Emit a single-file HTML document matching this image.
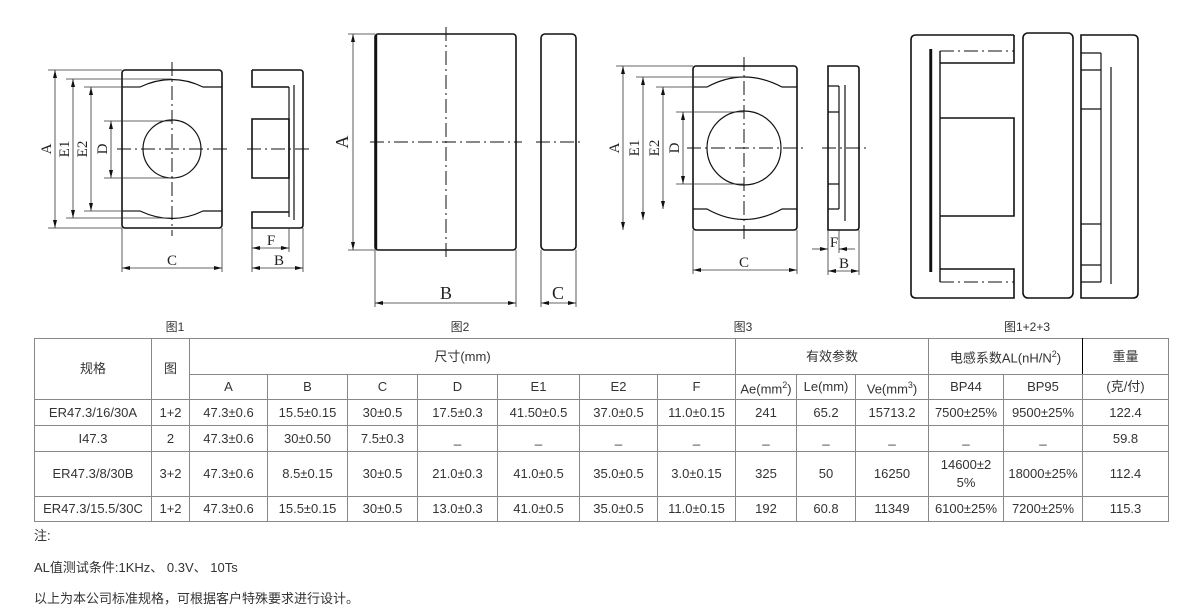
<!DOCTYPE html>
<html><head><meta charset="utf-8">
<style>
body{margin:0;width:1184px;height:615px;background:#fff;position:relative;overflow:hidden;font-family:"Liberation Sans","Noto Sans CJK SC",sans-serif;color:#333;}
svg{position:absolute;left:0;top:0}
.cap{position:absolute;top:318px;font-size:12px;color:#333;transform:translateX(-50%)}
table{position:absolute;left:34px;top:338px;border-collapse:collapse;table-layout:fixed;font-size:13px;color:#333}
td{border:1px solid #888;text-align:center;padding:0;line-height:18px}
.n{position:absolute;left:34px;font-size:13px;color:#333}
</style></head><body>
<svg width="1184" height="320" viewBox="0 0 1184 320" fill="none" stroke="#111" font-family="Liberation Serif, serif">
<defs>
<marker id="ar" markerWidth="8" markerHeight="6" refX="8" refY="3" orient="auto-start-reverse" markerUnits="userSpaceOnUse"><path d="M0,1 L8,3 L0,5z" fill="#111" stroke="none"/></marker>
</defs>
<g stroke-width="1.6">
<!-- Fig1 front -->
<rect x="122" y="70" width="100" height="158" rx="3"/>
<path d="M122,87 H140 Q172,72 203,87 H222" stroke-width="1.2"/>
<path d="M122,211 H140 Q172,226 203,211 H222" stroke-width="1.2"/>
<circle cx="172" cy="149" r="29" stroke-width="1.2"/>
<!-- Fig1 side -->
<path d="M252,70 H300 Q303,70 303,73 V225 Q303,228 300,228 H252 V212 H289 M252,70 V87 H289 M252,119 H289 V178 H252 Z"/>
<path d="M289,87 V217 M294,85 V220" stroke-width="1.2"/>
<!-- Fig2 -->
<rect x="375" y="34" width="141" height="216" rx="3"/>
<line x1="376" y1="35" x2="376" y2="249" stroke-width="2.4"/>
<rect x="541" y="34" width="35" height="216" rx="4"/>
<!-- Fig3 front -->
<rect x="693" y="66" width="104" height="164" rx="3"/>
<path d="M693,87 H707 Q744,67 782,87 H797" stroke-width="1.2"/>
<path d="M693,209 H707 Q744,230 782,209 H797" stroke-width="1.2"/>
<ellipse cx="744" cy="148" rx="37" ry="37" stroke-width="1.2"/>
<!-- Fig3 side -->
<path d="M828,66 H856 Q859,66 859,69 V227 Q859,230 856,230 H828 Z"/>
<path d="M828,86 H839 M828,112 H839 V184 H828 M828,209 H839 M839,86 V209 M845,85 V221" stroke-width="1.2"/>
<!-- Fig 1+2+3 -->
<path d="M1014,35 H916 Q911,35 911,40 V293 Q911,298 916,298 H1014 V269 H940 M1014,35 V63 H940 M940,118 H1014 V216 H940"/>
<path d="M940,51 V282 M930,49 V272" stroke-width="1.4"/>
<line x1="931" y1="49" x2="931" y2="272" stroke-width="2.4"/>
<rect x="1023" y="33" width="50" height="265" rx="5"/>
<path d="M1081,35 H1133 Q1138,35 1138,40 V293 Q1138,298 1133,298 H1081 Z"/>
<path d="M1081,53 H1101 M1081,70 H1101 M1081,109 H1101 V224 H1081 M1081,265 H1101 M1081,282 H1101 M1101,53 V282 M1111,67 V284" stroke-width="1.2"/>
</g>
<!-- centerlines -->
<g stroke-width="1" stroke-dasharray="14,4,2,4">
<line x1="172" y1="62" x2="172" y2="236"/><line x1="117" y1="149" x2="227" y2="149"/><line x1="247" y1="149" x2="310" y2="149"/>
<line x1="446" y1="27" x2="446" y2="257"/><line x1="370" y1="142" x2="522" y2="142"/><line x1="536" y1="142" x2="581" y2="142"/>
<line x1="744" y1="57" x2="744" y2="240"/><line x1="687" y1="148" x2="803" y2="148"/><line x1="822" y1="148" x2="866" y2="148"/>
<line x1="940" y1="51" x2="1014" y2="51"/><line x1="940" y1="282" x2="1014" y2="282"/>
</g>
<!-- dims -->
<g stroke-width="0.8" stroke="#333">
<path d="M48,70 H122 M48,228 H122 M66,79 H172 M66,218 H172 M84,87 H140 M84,211 H140 M104,121 H172 M104,178 H172"/>
<path d="M122,228 V272 M222,228 V272 M252,228 V272 M303,228 V272 M289,228 V252"/>
<path d="M348,34 H375 M348,250 H375 M375,250 V307 M516,250 V307 M541,250 V307 M576,250 V307"/>
<path d="M616,66 H693 M636,77 H744 M656,87 H707 M676,112 H744 M676,184 H744 M693,230 V274 M797,230 V274 M828,230 V275 M859,230 V275 M839,230 V253"/>
<g marker-start="url(#ar)" marker-end="url(#ar)">
<line x1="55" y1="70" x2="55" y2="228"/><line x1="73" y1="79" x2="73" y2="218"/><line x1="91" y1="87" x2="91" y2="211"/><line x1="111" y1="121" x2="111" y2="178"/>
<line x1="122" y1="268" x2="222" y2="268"/><line x1="252" y1="248" x2="289" y2="248"/><line x1="252" y1="268" x2="303" y2="268"/>
<line x1="353" y1="34" x2="353" y2="250"/><line x1="375" y1="303" x2="516" y2="303"/><line x1="541" y1="303" x2="576" y2="303"/>
<line x1="623" y1="66" x2="623" y2="230"/><line x1="643" y1="77" x2="643" y2="220"/><line x1="663" y1="87" x2="663" y2="209"/><line x1="683" y1="112" x2="683" y2="184"/>
<line x1="693" y1="270" x2="797" y2="270"/><line x1="828" y1="271" x2="859" y2="271"/>
</g>
<line x1="812" y1="249" x2="828" y2="249" marker-end="url(#ar)"/><line x1="855" y1="249" x2="839" y2="249" marker-end="url(#ar)"/>
</g>
<g fill="#222" stroke="none" font-size="15" text-anchor="middle">
<text transform="translate(51,149) rotate(-90)">A</text>
<text transform="translate(69,149) rotate(-90)">E1</text>
<text transform="translate(87,149) rotate(-90)">E2</text>
<text transform="translate(107,149) rotate(-90)">D</text>
<text x="172" y="265">C</text><text x="271" y="245">F</text><text x="279" y="265">B</text>
<text transform="translate(348,142) rotate(-90)" font-size="18">A</text>
<text x="446" y="299" font-size="18">B</text><text x="558" y="299" font-size="18">C</text>
<text transform="translate(619,148) rotate(-90)">A</text>
<text transform="translate(639,148) rotate(-90)">E1</text>
<text transform="translate(659,148) rotate(-90)">E2</text>
<text transform="translate(679,148) rotate(-90)">D</text>
<text x="744" y="267">C</text><text x="834" y="247">F</text><text x="844" y="268">B</text>
</g>
</svg>
<div class="cap" style="left:175px">图1</div>
<div class="cap" style="left:460px">图2</div>
<div class="cap" style="left:743px">图3</div>
<div class="cap" style="left:1027px">图1+2+3</div>
<table>
<colgroup><col style="width:117px"><col style="width:38px"><col style="width:78px"><col style="width:80px"><col style="width:70px"><col style="width:80px"><col style="width:82px"><col style="width:78px"><col style="width:78px"><col style="width:61px"><col style="width:59px"><col style="width:73px"><col style="width:75px"><col style="width:79px"><col style="width:86px"></colgroup>
<tr style="height:36px"><td rowspan="2">规格</td><td rowspan="2">图</td><td colspan="7">尺寸(mm)</td><td colspan="3">有效参数</td><td colspan="2" style="border-left:1px solid #000;border-right:1px solid #000">电感系数AL(nH/N<sup style="font-size:9px">2</sup>)</td><td>重量</td></tr>
<tr style="height:25px"><td>A</td><td>B</td><td>C</td><td>D</td><td>E1</td><td>E2</td><td>F</td><td>Ae(mm<sup style="font-size:9px">2</sup>)</td><td>Le(mm)</td><td>Ve(mm<sup style="font-size:9px">3</sup>)</td><td>BP44</td><td>BP95</td><td>(克/付)</td></tr>
<tr style="height:26px"><td>ER47.3/16/30A</td><td>1+2</td><td>47.3±0.6</td><td>15.5±0.15</td><td>30±0.5</td><td>17.5±0.3</td><td>41.50±0.5</td><td>37.0±0.5</td><td>11.0±0.15</td><td>241</td><td>65.2</td><td>15713.2</td><td>7500±25%</td><td>9500±25%</td><td>122.4</td></tr>
<tr style="height:26px"><td>I47.3</td><td>2</td><td>47.3±0.6</td><td>30±0.50</td><td>7.5±0.3</td><td>_</td><td>_</td><td>_</td><td>_</td><td>_</td><td>_</td><td>_</td><td>_</td><td>_</td><td>59.8</td></tr>
<tr style="height:45px"><td>ER47.3/8/30B</td><td>3+2</td><td>47.3±0.6</td><td>8.5±0.15</td><td>30±0.5</td><td>21.0±0.3</td><td>41.0±0.5</td><td>35.0±0.5</td><td>3.0±0.15</td><td>325</td><td>50</td><td>16250</td><td>14600±2<br>5%</td><td>18000±25%</td><td>112.4</td></tr>
<tr style="height:25px"><td>ER47.3/15.5/30C</td><td>1+2</td><td>47.3±0.6</td><td>15.5±0.15</td><td>30±0.5</td><td>13.0±0.3</td><td>41.0±0.5</td><td>35.0±0.5</td><td>11.0±0.15</td><td>192</td><td>60.8</td><td>11349</td><td>6100±25%</td><td>7200±25%</td><td>115.3</td></tr>
</table>
<div class="n" style="top:525px">注:</div>
<div class="n" style="top:557px">AL值测试条件:1KHz、 0.3V、 10Ts</div>
<div class="n" style="top:588px">以上为本公司标准规格，可根据客户特殊要求进行设计。</div>
</body></html>
